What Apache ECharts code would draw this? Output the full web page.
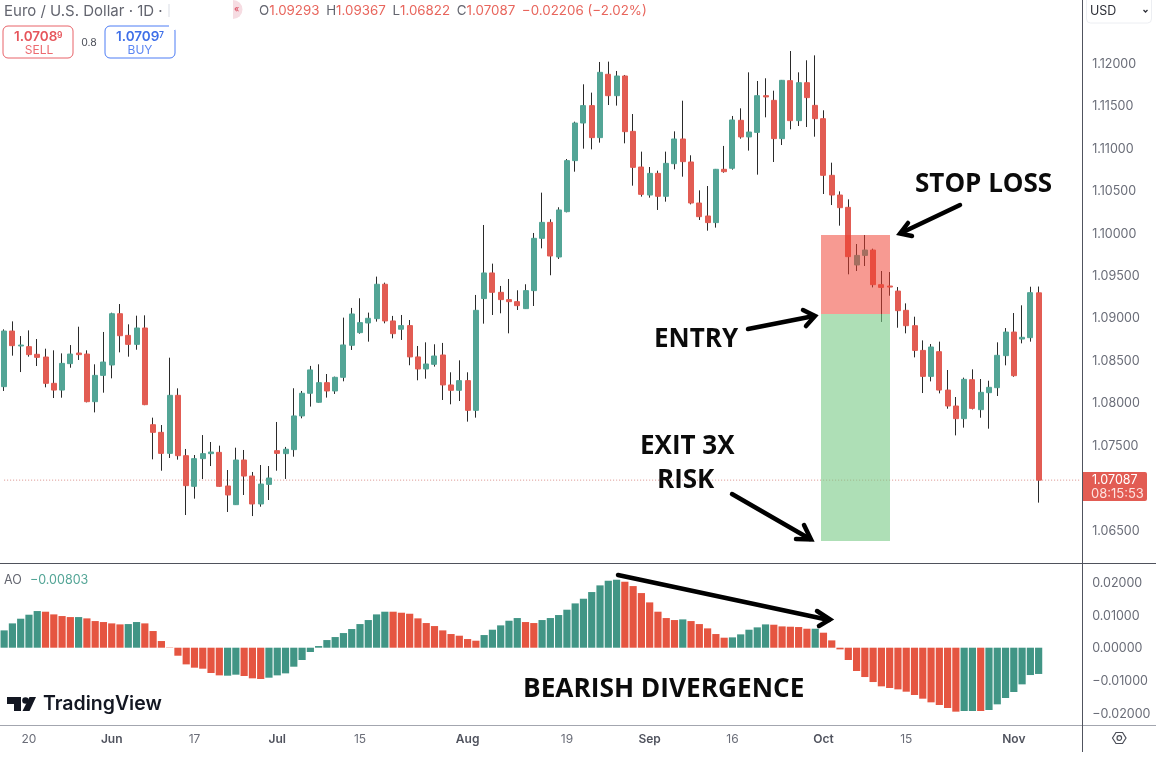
<!DOCTYPE html>
<html>
<head>
<meta charset="utf-8">
<title>Euro / U.S. Dollar</title>
<script src="https://cdn.jsdelivr.net/npm/echarts@6/dist/echarts.min.js"></script>
<style>
html, body { margin: 0; padding: 0; background: #fff; }
#chart { width: 1156px; height: 758px; }
</style>
</head>
<body>
<div id="chart"></div>
<script>
// daily candles
var opens = [
    1.08188,1.08843,1.08667,1.08659,1.08569,1.08537,1.08227,1.08148,1.08459,1.08584,
    1.08572,1.08011,1.08321,1.08443,1.09047,1.08792,1.08686,1.08879,1.07740,1.07650,
    1.07402,1.08086,1.07375,1.07014,1.07340,1.07399,1.07414,1.07018,1.06798,1.07324,
    1.07135,1.06806,1.07037,1.07434,1.07399,1.07446,1.07843,1.08110,1.08004,1.08235,
    1.08137,1.08298,1.08675,1.08824,1.08938,1.08989,1.09394,1.08962,1.08864,1.08907,
    1.08538,1.08396,1.08451,1.08561,1.08208,1.08145,1.08259,1.07909,1.09225,1.09527,
    1.09299,1.09213,1.09189,1.09107,1.09319,1.09935,1.10123,1.09715,1.10249,1.10850,
    1.11293,1.11498,1.11121,1.11867,1.11615,1.11847,1.11195,1.10775,1.10445,1.10700,
    1.10430,1.10814,1.11105,1.10834,1.10351,1.10198,1.10120,1.10748,1.10760,1.11325,
    1.11129,1.11183,1.11615,1.11560,1.11109,1.11792,1.11321,1.11768,1.11501,1.11344,
    1.10677,1.10445,1.10300,1.09621,1.09734,1.09797,1.09389,1.09373,1.09314,1.09087,
    1.08906,1.08615,1.08309,1.08600,1.08148,1.07960,1.07811,1.08270,1.07917,1.08117,
    1.08176,1.08553,1.08831,1.08749,1.08765,1.09293
];
var closes = [
    1.08843,1.08671,1.08678,1.08565,1.08533,1.08227,1.08148,1.08462,1.08572,1.08565,
    1.08011,1.08321,1.08478,1.09047,1.08788,1.08686,1.08879,1.07976,1.07650,1.07402,
    1.08086,1.07375,1.07022,1.07340,1.07399,1.07418,1.07014,1.06912,1.07324,1.07135,
    1.06806,1.07041,1.07112,1.07402,1.07451,1.07843,1.08110,1.08385,1.08235,1.08137,
    1.08298,1.08679,1.09044,1.08942,1.08993,1.09394,1.08962,1.08812,1.08907,1.08538,
    1.08396,1.08455,1.08549,1.08208,1.08145,1.08259,1.07909,1.09087,1.09527,1.09299,
    1.09213,1.09189,1.09142,1.09319,1.09935,1.10123,1.09727,1.10269,1.10850,1.11293,
    1.11498,1.11121,1.11890,1.11615,1.11847,1.11191,1.10771,1.10453,1.10700,1.10430,
    1.10818,1.11105,1.10838,1.10351,1.10190,1.10120,1.10748,1.10720,1.11329,1.11129,
    1.11187,1.11615,1.11600,1.11109,1.11796,1.11321,1.11768,1.11592,1.11344,1.10677,
    1.10445,1.10296,1.09719,1.09734,1.09797,1.09389,1.09357,1.09361,1.09083,1.08906,
    1.08615,1.08309,1.08655,1.08148,1.07960,1.07811,1.08274,1.07932,1.08121,1.08180,
    1.08557,1.08831,1.08317,1.08769,1.09295,1.07087
];
var lows = [
    1.08137,1.08553,1.08360,1.08541,1.08431,1.08180,1.08054,1.08058,1.08411,1.08502,
    1.08003,1.07885,1.08117,1.08286,1.08592,1.08541,1.08623,1.07970,1.07332,1.07198,
    1.07348,1.07328,1.06676,1.06869,1.07100,1.07253,1.07010,1.06712,1.06795,1.06912,
    1.06664,1.06774,1.06853,1.07198,1.07101,1.07363,1.07815,1.07953,1.08000,1.08059,
    1.08102,1.08251,1.08620,1.08812,1.08718,1.08954,1.08934,1.08757,1.08738,1.08440,
    1.08263,1.08282,1.08424,1.08031,1.07980,1.08019,1.07776,1.07823,1.08930,1.09032,
    1.09052,1.08816,1.09091,1.09103,1.09138,1.09817,1.09500,1.09692,1.10241,1.10720,
    1.10991,1.10983,1.11062,1.11505,1.11498,1.11054,1.10555,1.10426,1.10414,1.10269,
    1.10367,1.10748,1.10661,1.10335,1.10151,1.10025,1.10061,1.10708,1.10744,1.11109,
    1.10968,1.10685,1.11360,1.10834,1.11034,1.11219,1.11258,1.11246,1.11132,1.10457,
    1.10327,1.10084,1.09511,1.09550,1.09609,1.09357,1.08950,1.09259,1.08882,1.08816,
    1.08533,1.08113,1.08250,1.08109,1.07928,1.07614,1.07705,1.07920,1.07822,1.07693,
    1.08078,1.08439,1.08305,1.08698,1.08718,1.06822
];
var highs = [
    1.08863,1.08957,1.08784,1.08851,1.08749,1.08635,1.08616,1.08580,1.08678,1.08894,
    1.08616,1.08451,1.08832,1.09059,1.09161,1.08922,1.09024,1.09028,1.07823,1.07736,
    1.08529,1.08168,1.07454,1.07383,1.07618,1.07536,1.07493,1.07206,1.07469,1.07442,
    1.07183,1.07265,1.07253,1.07772,1.07478,1.08169,1.08137,1.08432,1.08451,1.08337,
    1.08306,1.09001,1.09115,1.09229,1.09060,1.09484,1.09413,1.09021,1.09032,1.08973,
    1.08667,1.08710,1.08687,1.08703,1.08357,1.08498,1.08357,1.09268,1.10092,1.09637,
    1.09374,1.09456,1.09323,1.09394,1.09998,1.10473,1.10159,1.10301,1.10869,1.11309,
    1.11749,1.11651,1.12012,1.12016,1.11906,1.11859,1.11399,1.10956,1.10775,1.10732,
    1.10956,1.11195,1.11556,1.10913,1.10500,1.10551,1.10752,1.11023,1.11376,1.11466,
    1.11890,1.11788,1.11820,1.11674,1.11800,1.12141,1.11890,1.12032,1.12090,1.11443,
    1.10826,1.10488,1.10394,1.09868,1.09974,1.09813,1.09550,1.09538,1.09361,1.09169,
    1.09012,1.08733,1.08690,1.08718,1.08384,1.08066,1.08294,1.08392,1.08278,1.08258,
    1.08710,1.08878,1.09055,1.09146,1.09365,1.09367
];

// awesome oscillator
var aoValues = [
    0.00530,0.00744,0.00887,0.01009,0.01121,0.01101,0.01019,0.00968,0.00937,0.00937,
    0.00897,0.00815,0.00785,0.00744,0.00713,0.00723,0.00785,0.00744,0.00510,0.00204,
    -0.00010,-0.00245,-0.00510,-0.00611,-0.00642,-0.00774,-0.00846,-0.00856,-0.00825,-0.00866,
    -0.00937,-0.00958,-0.00917,-0.00846,-0.00785,-0.00581,-0.00377,-0.00132,0.00051,0.00234,
    0.00326,0.00448,0.00571,0.00723,0.00846,0.01019,0.01101,0.01101,0.01070,0.01039,
    0.00897,0.00754,0.00662,0.00530,0.00418,0.00367,0.00265,0.00214,0.00387,0.00550,
    0.00683,0.00825,0.00907,0.00785,0.00754,0.00846,0.00907,0.00999,0.01162,0.01355,
    0.01498,0.01702,0.01906,0.02048,0.02079,0.02018,0.01885,0.01671,0.01386,0.01101,
    0.00907,0.00846,0.00866,0.00815,0.00723,0.00591,0.00418,0.00306,0.00316,0.00408,
    0.00550,0.00622,0.00713,0.00703,0.00652,0.00642,0.00632,0.00581,0.00581,0.00459,
    0.00224,-0.00051,-0.00377,-0.00713,-0.00897,-0.01050,-0.01182,-0.01233,-0.01274,-0.01345,
    -0.01447,-0.01559,-0.01671,-0.01753,-0.01844,-0.01956,-0.01936,-0.01936,-0.01936,-0.01906,
    -0.01732,-0.01539,-0.01355,-0.01121,-0.00836,-0.00803
];
var aoRising = [
    1,1,1,1,1,0,0,0,0,1,
    0,0,0,0,0,1,1,0,0,0,
    0,0,0,0,0,0,0,1,1,0,
    0,0,1,1,1,1,1,1,1,1,
    1,1,1,1,1,1,1,0,0,0,
    0,0,0,0,0,0,0,0,1,1,
    1,1,1,0,0,1,1,1,1,1,
    1,1,1,1,1,0,0,0,0,0,
    0,0,1,0,0,0,0,0,1,1,
    1,1,1,0,0,0,0,0,1,0,
    0,0,0,0,0,0,0,0,0,0,
    0,0,0,0,0,0,1,1,0,1,
    1,1,1,1,1,1
];

var startDate = '2024-05-15';
var blankBars = 5;
var tickLabels = {
    '2024-05-20': '20', '2024-06-03': 'Jun', '2024-06-17': '17', '2024-07-01': 'Jul',
    '2024-07-15': '15', '2024-08-01': 'Aug', '2024-08-19': '19', '2024-09-02': 'Sep',
    '2024-09-16': '16', '2024-10-01': 'Oct', '2024-10-15': '15', '2024-11-01': 'Nov'
};
var priceTicks = [1.065, 1.07, 1.075, 1.08, 1.085, 1.09, 1.095, 1.1, 1.105, 1.11, 1.115, 1.12];
var aoTicks = [-0.02, -0.01, 0, 0.01, 0.02];
var lastPrice = 1.07087;

var UP = '#53a596', DOWN = '#e25c53', AO_UP = '#419585', AO_DOWN = '#e55541';
var FONT = 'Inter, "Noto Sans", sans-serif';
var BOLD = '"Open Sans", "Noto Sans", sans-serif';

// weekdays only, the chart has no weekend bars
var categories = [];
var day = new Date(startDate + 'T12:00:00Z');
while (categories.length < opens.length + blankBars) {
    if (day.getUTCDay() != 0 && day.getUTCDay() != 6) {
        categories.push(day.toISOString().slice(0, 10));
    }
    day.setUTCDate(day.getUTCDate() + 1);
}

var wickData = [], bodyData = [], aoData = [], lastLine = [];
for (var i = 0; i < opens.length; i++) {
    wickData.push([opens[i], closes[i], lows[i], highs[i]]);
    bodyData.push([opens[i], closes[i], Math.min(opens[i], closes[i]), Math.max(opens[i], closes[i])]);
    aoData.push({
        value: aoValues[i],
        itemStyle: {color: aoRising[i] ? AO_UP : AO_DOWN}
    });
}
for (var j = 0; j < categories.length; j++) {
    lastLine.push(lastPrice);
}

function arrow(points, head) {
    return [
        {type: 'polyline', shape: {points: points}, style: {stroke: '#000', fill: null, lineWidth: 4.5, lineCap: 'round'}, z: 60},
        {type: 'polyline', shape: {points: head}, style: {stroke: '#000', fill: null, lineWidth: 4.5, lineCap: 'round', lineJoin: 'miter'}, z: 60}
    ];
}
function label(text, x, y, size, align) {
    return {
        type: 'text', x: x, y: y, z: 60,
        style: {text: text, fill: '#0b0b0b', font: '700 ' + size + 'px ' + BOLD, align: align || 'left', verticalAlign: 'middle'}
    };
}
function small(text, x, y, color, font, align) {
    return {
        type: 'text', x: x, y: y, z: 70,
        style: {text: text, fill: color, font: font, align: align || 'left', verticalAlign: 'middle'}
    };
}

var graphics = [
    // trade box
    {type: 'rect', shape: {x: 821, y: 235, width: 69, height: 79}, style: {fill: 'rgba(240,61,46,0.52)'}, z: 50},
    {type: 'rect', shape: {x: 821, y: 314, width: 69, height: 227}, style: {fill: 'rgba(120,202,133,0.6)'}, z: 50},

    // pane frame
    {type: 'line', shape: {x1: 0, y1: 563.5, x2: 1156, y2: 563.5}, style: {stroke: '#4f525c', lineWidth: 1}, z: 40},
    {type: 'line', shape: {x1: 0, y1: 725.5, x2: 1156, y2: 725.5}, style: {stroke: '#a3a6af', lineWidth: 1}, z: 40},
    {type: 'line', shape: {x1: 1082.5, y1: 0, x2: 1082.5, y2: 752}, style: {stroke: '#50535e', lineWidth: 1}, z: 41},

    // last price tag
    {type: 'rect', shape: {x: 1083, y: 472, width: 64, height: 29, r: [0, 2, 2, 0]}, style: {fill: DOWN}, z: 65},
    small('1.07087', 1092, 480.5, '#fff', '12.5px ' + FONT),
    small('08:15:53', 1091, 494, '#fde3e0', '13px ' + FONT),

    // header
    small('Euro / U.S. Dollar \u00b7 1D \u00b7', 4, 11, '#63656f', '15px ' + FONT),
    {type: 'rect', shape: {x: 168, y: 4, width: 2, height: 13}, style: {fill: '#eceef2'}, z: 70},
    {type: 'sector', shape: {cx: 233, cy: 9.5, r0: 0, r: 9.5, startAngle: -Math.PI / 2, endAngle: Math.PI / 2}, style: {fill: '#f6dce2'}, z: 70},
    small('\u00ab', 234, 9, '#d8394f', '9px ' + FONT),
    {
        type: 'text', x: 259, y: 11, z: 70,
        style: {
            text: '{g|O}{r|1.09293}  {g|H}{r|1.09367}  {g|L}{r|1.06822}  {g|C}{r|1.07087}  {r|\u22120.02206 (\u22122.02%)}',
            verticalAlign: 'middle',
            rich: {
                g: {fill: '#63656f', font: '13.35px ' + FONT},
                r: {fill: '#e8655c', font: '13.35px ' + FONT}
            }
        }
    },
    {type: 'rect', shape: {x: 3, y: 26, width: 70, height: 32, r: 5}, style: {fill: '#fff', stroke: '#e86268', lineWidth: 1}, z: 66},
    small('1.0708', 14, 37, '#e6555b', '600 13.5px ' + FONT),
    small('9', 57, 35.5, '#e6555b', '600 8.5px ' + FONT),
    small('SELL', 39, 50.5, '#ec6a6f', '12px ' + FONT, 'center'),
    small('0.8', 89, 42.5, '#4b4e58', '10.5px ' + FONT, 'center'),
    {type: 'rect', shape: {x: 105, y: 26, width: 70, height: 32, r: 5}, style: {fill: '#fff', stroke: '#4c7cf5', lineWidth: 1}, z: 66},
    {type: 'rect', shape: {x: 169, y: 24, width: 6.5, height: 6}, style: {fill: '#fff'}, z: 67},
    small('1.0709', 116, 37, '#3f6fe8', '600 13.5px ' + FONT),
    small('7', 159, 35.5, '#3f6fe8', '600 8.5px ' + FONT),
    small('BUY', 140, 50.5, '#5b86f2', '12px ' + FONT, 'center'),

    // currency button
    {type: 'rect', shape: {x: 1086.5, y: -6, width: 65, height: 29, r: 4}, style: {fill: '#fff', stroke: '#eceef2', lineWidth: 1}, z: 66},
    small('USD', 1090, 11.5, '#2e3038', '12.5px ' + FONT),
    {type: 'polyline', shape: {points: [[1143.5, 10], [1145.5, 12], [1147.5, 10]]}, style: {stroke: '#2e3038', fill: null, lineWidth: 1.3}, z: 70},

    // AO legend
    small('AO', 4, 580.5, '#63656f', '12.5px ' + FONT),
    small('\u22120.00803', 30, 580.5, '#53a596', '12.5px ' + FONT),

    // logo
    {type: 'polygon', shape: {points: [[7, 697], [21, 697], [21, 711], [14, 711], [14, 704], [7, 704]]}, style: {fill: '#131722'}, z: 70},
    {type: 'circle', shape: {cx: 25.5, cy: 700.5, r: 3.3}, style: {fill: '#131722'}, z: 70},
    {type: 'polygon', shape: {points: [[29.5, 697], [36, 697], [29.5, 711], [22.5, 711]]}, style: {fill: '#131722'}, z: 70},
    small('TradingView', 43, 704.5, '#131722', '600 19.5px ' + FONT),

    // settings icon
    {type: 'polygon', shape: {points: [[1112.5, 738], [1116, 732.5], [1122.5, 732.5], [1126, 738], [1122.5, 743.5], [1116, 743.5]]}, style: {fill: 'none', stroke: '#4b4e58', lineWidth: 1.2}, z: 70},
    {type: 'circle', shape: {cx: 1119.3, cy: 738, r: 2.3}, style: {fill: 'none', stroke: '#4b4e58', lineWidth: 1.2}, z: 70},

    // annotations
    label('STOP LOSS', 915, 185, 26),
    label('ENTRY', 654, 340, 26),
    label('EXIT 3X', 640, 447, 26),
    label('RISK', 657, 481, 26),
    label('BEARISH DIVERGENCE', 523, 690, 26.25)
];
graphics = graphics.concat(
    arrow([[960, 205], [901, 233]], [[908, 223], [900, 233.5], [912, 236]]),
    arrow([[748, 329], [814, 316]], [[803, 310], [815, 316], [806, 326]]),
    arrow([[732, 494], [810, 539]], [[804, 525], [811, 539.5], [796, 539]]),
    arrow([[618, 575], [829, 620]], [[817, 611], [830, 619.5], [819, 626]])
);

var scaleLabel = {color: '#6a6d78', fontFamily: 'Inter', fontSize: 12.5, padding: [2, 0, 0, 0]};

var chart = echarts.init(document.getElementById('chart'));
var option = {
    animation: false,
    backgroundColor: '#fff',
    grid: [
        {left: -1.44, top: 0, width: 1085.6, height: 563},
        {left: -1.44, top: 564, width: 1085.6, height: 161}
    ],
    xAxis: [
        {type: 'category', gridIndex: 0, data: categories, show: false},
        {
            type: 'category',
            gridIndex: 1,
            data: categories,
            axisLine: {show: false},
            axisTick: {show: false},
            axisLabel: {
                margin: 8,
                interval: function (index, value) { return !!tickLabels[value]; },
                formatter: function (value) {
                    var t = tickLabels[value];
                    return isNaN(t) ? '{m|' + t + '}' : '{d|' + t + '}';
                },
                rich: {
                    m: {color: '#50535e', fontFamily: 'Inter', fontSize: 12, fontWeight: 600},
                    d: {color: '#6a6d78', fontFamily: 'Inter', fontSize: 12}
                }
            }
        }
    ],
    yAxis: [
        {
            type: 'value',
            gridIndex: 0,
            position: 'right',
            min: 1.06111,
            max: 1.12742,
            splitLine: {show: false},
            axisLine: {show: false},
            axisTick: {show: false},
            axisLabel: {
                customValues: priceTicks,
                margin: 8,
                rich: {s: scaleLabel},
                formatter: function (v) { return '{s|' + v.toFixed(5) + '}'; }
            }
        },
        {
            type: 'value',
            gridIndex: 1,
            position: 'right',
            min: -0.02364,
            max: 0.0256,
            splitLine: {show: false},
            axisLine: {show: false},
            axisTick: {show: false},
            axisLabel: {
                customValues: aoTicks,
                margin: 8,
                rich: {s: scaleLabel},
                formatter: function (v) { return '{s|' + v.toFixed(5).replace('-', '\u2212') + '}'; }
            }
        }
    ],
    series: [
        {
            name: 'last price',
            type: 'line',
            xAxisIndex: 0,
            yAxisIndex: 0,
            showSymbol: false,
            silent: true,
            z: 1,
            lineStyle: {color: '#d98f89', type: [1, 2], width: 1},
            data: lastLine
        },
        {
            name: 'wicks',
            type: 'candlestick',
            xAxisIndex: 0,
            yAxisIndex: 0,
            barWidth: 1,
            silent: true,
            z: 2,
            itemStyle: {color: '#2a2a2a', color0: '#2a2a2a', borderColor: '#2a2a2a', borderColor0: '#2a2a2a', borderWidth: 1},
            data: wickData
        },
        {
            name: 'bodies',
            type: 'candlestick',
            xAxisIndex: 0,
            yAxisIndex: 0,
            barWidth: 5.5,
            silent: true,
            z: 3,
            itemStyle: {color: UP, color0: DOWN, borderColor: UP, borderColor0: DOWN, borderWidth: 1},
            data: bodyData
        },
        {
            name: 'AO',
            type: 'bar',
            xAxisIndex: 1,
            yAxisIndex: 1,
            barWidth: 7.2,
            silent: true,
            data: aoData
        }
    ],
    graphic: graphics
};
chart.setOption(option);
</script>
</body>
</html>
